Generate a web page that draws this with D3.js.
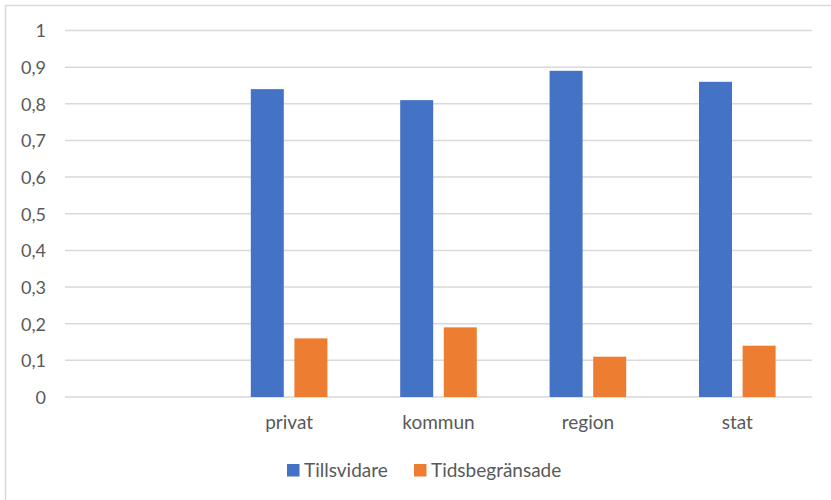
<!DOCTYPE html>
<html><head><meta charset="utf-8">
<script src="https://cdn.jsdelivr.net/npm/d3@7"></script>
<style>body{margin:0;background:#fff}svg{display:block}text{font-family:Lato,"Open Sans",sans-serif;fill:#595959}</style>
</head><body><svg id="c" width="831" height="500"></svg>
<script>
const categories = ["", "privat", "kommun", "region", "stat"];
const seriesNames = ["Tillsvidare", "Tidsbegränsade"];
const tillsvidare = [null, 0.84, 0.81, 0.89, 0.86];
const tidsbegransade = [null, 0.16, 0.19, 0.11, 0.14];
const yTicks = [0, 0.1, 0.2, 0.3, 0.4, 0.5, 0.6, 0.7, 0.8, 0.9, 1];
const colors = ["#4472C4", "#ED7D31"];

const svg = d3.select("#c");
svg.append("rect").attr("x",5.5).attr("y",5.5).attr("width",840).attr("height",510)
  .attr("fill","#fff").attr("stroke","#D9D9D9").attr("stroke-width",1.5);

const m = {l:65, r:812, t:30.5, b:397};
const x = d3.scaleBand().domain(categories.map((c,i)=>i)).range([m.l,m.r]);
const y = d3.scaleLinear().domain([0,1]).range([m.b,m.t]);
const barW = 33, gap = 10.6;

const grid = svg.append("g");
yTicks.forEach(t=>{
  grid.append("line").attr("x1",m.l).attr("x2",m.r).attr("y1",y(t)).attr("y2",y(t))
    .attr("stroke","#D9D9D9").attr("stroke-width",1.5);
});
const fmt = d3.formatLocale({decimal:",",thousands:" ",grouping:[3],currency:["","kr"]}).format("~g");
const yAxis = d3.axisLeft(y).tickValues(yTicks).tickSize(0).tickPadding(0).tickFormat(d=>fmt(d));
const ya = svg.append("g").attr("transform",`translate(${m.l-19},0)`).call(yAxis);
ya.select(".domain").remove();
ya.selectAll("text").style("font-size","18px").style("font-family",null).attr("fill","#595959").attr("dy","0.35em");

const series = [tillsvidare, tidsbegransade];
series.forEach((vals,s)=>{
  svg.append("g").selectAll("rect").data(vals.map((v,i)=>({v,i})).filter(d=>d.v!=null))
    .join("rect")
    .attr("x",d=>x(d.i)+x.bandwidth()/2 + (s===0 ? -gap/2-barW : gap/2))
    .attr("width",barW)
    .attr("y",d=>y(d.v)).attr("height",d=>y(0)-y(d.v))
    .attr("fill",colors[s]);
});

const xa = svg.append("g").attr("transform",`translate(0,${m.b})`)
  .call(d3.axisBottom(x).tickSize(0).tickPadding(0).tickFormat(i=>categories[i]));
xa.select(".domain").remove();
xa.selectAll("text").style("font-size","19px").style("font-family",null).attr("fill","#595959").attr("y",32).attr("dy",0);

const leg = svg.append("g");
const legX = [287, 414];
seriesNames.forEach((n,i)=>{
  leg.append("rect").attr("x",legX[i]).attr("y",464).attr("width",12.5).attr("height",12.5).attr("fill",colors[i]);
  leg.append("text").attr("x",legX[i]+17).attr("y",477).style("font-size","19px").text(n);
});
</script></body></html>
